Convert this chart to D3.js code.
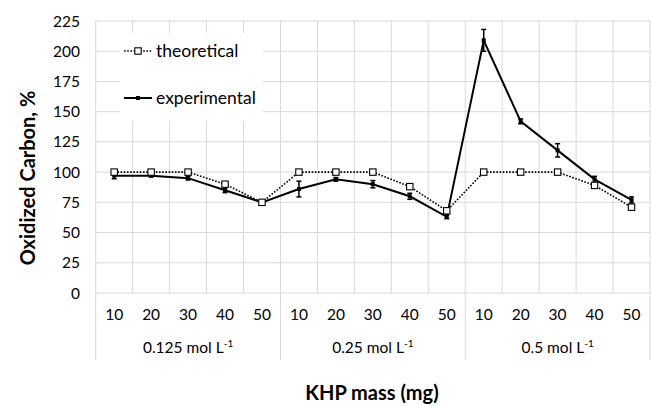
<!DOCTYPE html>
<html><head><meta charset="utf-8">
<script src="https://cdn.jsdelivr.net/npm/d3@7"></script>
<style>
body{margin:0;background:#fff;}
svg text{font-family:Lato,"Open Sans",sans-serif;fill:#000;}
</style></head>
<body><svg id="c" width="651" height="406"></svg>
<script>
const groups = ["0.125", "0.25", "0.5"];
const masses = ["10", "20", "30", "40", "50"];
const yTicks = [0, 25, 50, 75, 100, 125, 150, 175, 200, 225];
const theoretical = [100, 100, 100, 90, 75, 100, 100, 100, 88, 68, 100, 100, 100, 89, 71];
const experimental = [97, 97, 95, 85, 75, 86, 94, 90, 80, 63, 209, 142, 118, 94, 77];
const expError = [2.5, 1, 1.5, 2, 1, 6.5, 1.5, 3, 2.5, 1.5, 9, 2, 5.5, 2.5, 2.5];

const cats = [];
groups.forEach((g, gi) => masses.forEach((m, mi) => cats.push({g, gi, m, key: gi + "-" + mi})));

const svg = d3.select("#c");
const L = 95.7, R = 650, T = 21, B = 293;
const x = d3.scaleBand().domain(cats.map(c => c.key)).range([L, R]).paddingInner(0).paddingOuter(0);
const y = d3.scaleLinear().domain([0, 225]).range([B, T]);
const cx = k => x(k) + x.bandwidth() / 2;
const grid = "#d9d9d9";

// horizontal grid
svg.append("g").selectAll("line").data(yTicks).join("line")
  .attr("x1", L).attr("x2", R).attr("y1", d => y(d)).attr("y2", d => y(d))
  .attr("stroke", grid).attr("stroke-width", 1);
// vertical grid (category boundaries)
const bounds = cats.map(c => x(c.key)).concat([R]);
svg.append("g").selectAll("line").data(bounds).join("line")
  .attr("x1", d => d).attr("x2", d => d).attr("y1", T).attr("y2", B)
  .attr("stroke", grid).attr("stroke-width", 1);

// y-axis labels
svg.append("g").selectAll("text").data(yTicks).join("text")
  .attr("x", 80).attr("y", d => y(d) + 5.5).attr("text-anchor", "end")
  .attr("font-size", 15.5).text(d => d);

// x category labels
svg.append("g").selectAll("text").data(cats).join("text")
  .attr("x", d => cx(d.key)).attr("y", 320).attr("text-anchor", "middle")
  .attr("font-size", 15.5).text(d => d.m);

// group separators
const gBounds = groups.map((g, gi) => x(gi + "-0")).concat([R]);
svg.append("g").selectAll("line").data(gBounds).join("line")
  .attr("x1", d => d).attr("x2", d => d).attr("y1", B).attr("y2", 360)
  .attr("stroke", grid).attr("stroke-width", 1);

// group labels
const gl = svg.append("g").selectAll("text").data(groups).join("text")
  .attr("x", (d, i) => (gBounds[i] + gBounds[i + 1]) / 2).attr("y", 353)
  .attr("text-anchor", "middle").attr("font-size", 15.5);
gl.append("tspan").text(d => d + " mol L");
gl.append("tspan").attr("dy", -6).attr("font-size", 10).text("-1");

// axis titles
svg.append("text").attr("x", 372).attr("y", 400).attr("text-anchor", "middle")
  .attr("font-size", 20).attr("font-weight", "bold").text("KHP mass (mg)");
svg.append("text").attr("transform", "translate(35,178) rotate(-90)").attr("text-anchor", "middle")
  .attr("font-size", 20).attr("font-weight", "bold").text("Oxidized Carbon, %");

// legend background
svg.append("rect").attr("x", 120).attr("y", 33).attr("width", 143).attr("height", 88).attr("fill", "#fff");

// theoretical line
const lineT = d3.line().x((d, i) => cx(cats[i].key)).y(d => y(d));
svg.append("path").datum(theoretical).attr("d", lineT).attr("fill", "none")
  .attr("stroke", "#000").attr("stroke-width", 1.6).attr("stroke-dasharray", "1.6,1.6");

// experimental line
svg.append("path").datum(experimental).attr("d", lineT).attr("fill", "none")
  .attr("stroke", "#000").attr("stroke-width", 2);

// error bars
const eb = svg.append("g").selectAll("g").data(experimental).join("g");
eb.append("line").attr("x1", (d, i) => cx(cats[i].key)).attr("x2", (d, i) => cx(cats[i].key))
  .attr("y1", (d, i) => y(d + expError[i])).attr("y2", (d, i) => y(d - expError[i]))
  .attr("stroke", "#000").attr("stroke-width", 1.5);
[1, -1].forEach(s => {
  eb.append("line").attr("x1", (d, i) => cx(cats[i].key) - 2.5).attr("x2", (d, i) => cx(cats[i].key) + 2.5)
    .attr("y1", (d, i) => y(d + s * expError[i])).attr("y2", (d, i) => y(d + s * expError[i]))
    .attr("stroke", "#000").attr("stroke-width", 1.5);
});
// experimental markers
svg.append("g").selectAll("rect").data(experimental).join("rect")
  .attr("x", (d, i) => cx(cats[i].key) - 2).attr("y", d => y(d) - 2)
  .attr("width", 4).attr("height", 4).attr("fill", "#000");

// theoretical markers
svg.append("g").selectAll("rect").data(theoretical).join("rect")
  .attr("x", (d, i) => cx(cats[i].key) - 3.2).attr("y", d => y(d) - 3.2)
  .attr("width", 6.4).attr("height", 6.4).attr("fill", "#fff").attr("stroke", "#000").attr("stroke-width", 1.1);

// legend
const lg = svg.append("g");
lg.append("line").attr("x1", 124).attr("x2", 152).attr("y1", 51).attr("y2", 51)
  .attr("stroke", "#000").attr("stroke-width", 1.6).attr("stroke-dasharray", "1.6,1.6");
lg.append("rect").attr("x", 134.8).attr("y", 47.8).attr("width", 6.4).attr("height", 6.4)
  .attr("fill", "#fff").attr("stroke", "#000").attr("stroke-width", 1.1);
lg.append("text").attr("x", 156).attr("y", 57).attr("font-size", 17.5).text("theoretical");
lg.append("line").attr("x1", 124).attr("x2", 152).attr("y1", 98).attr("y2", 98)
  .attr("stroke", "#000").attr("stroke-width", 2);
lg.append("rect").attr("x", 136).attr("y", 96).attr("width", 4).attr("height", 4).attr("fill", "#000");
lg.append("text").attr("x", 156).attr("y", 104).attr("font-size", 17.5).text("experimental");
</script></body></html>
